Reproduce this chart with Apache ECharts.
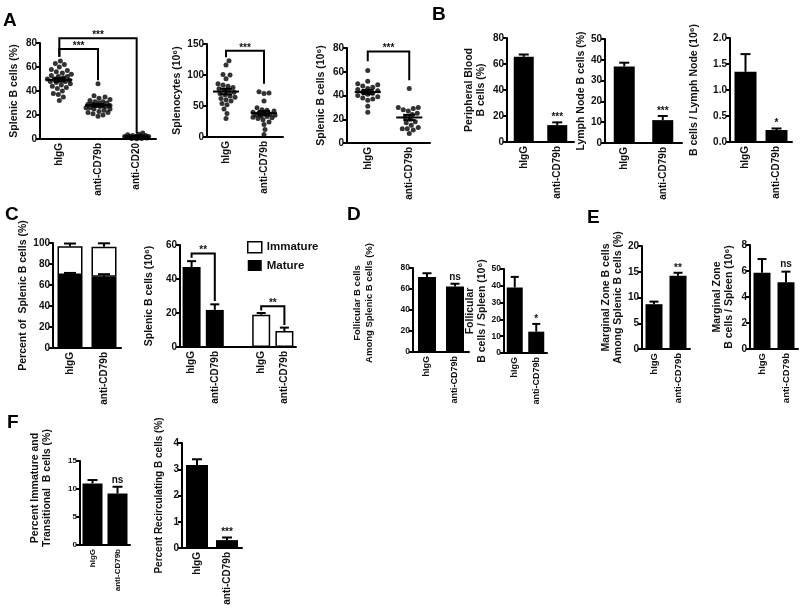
<!DOCTYPE html>
<html>
<head>
<meta charset="utf-8">
<script src="https://cdn.jsdelivr.net/npm/echarts@6/dist/echarts.min.js"></script>
<style>
  html, body { margin: 0; background: #fff; }
  #chart { width: 800px; height: 614px; }
</style>
</head>
<body>
<div id="chart"></div>
<script>
// group labels
const groups2 = ['hIgG', 'anti-CD79b'];
const groups3 = ['hIgG', 'anti-CD79b', 'anti-CD20'];
const groupsC2 = ['hIgG', 'anti-CD79b', '', 'hIgG', 'anti-CD79b'];

// A - one dot per mouse
const splenicPctIgG = [65, 63, 62, 60, 58, 57, 56, 55, 54, 53, 52, 52, 51, 50, 50, 49, 49, 48, 48, 47, 46, 45, 44, 43, 42, 40, 38, 37, 35, 32];
const splenicPctCD79b = [46, 36, 35, 34, 33, 32, 31, 31, 30, 30, 29, 29, 28, 28, 28, 27, 27, 26, 26, 25, 25, 24, 23, 22, 22, 21, 20, 19];
const splenicPctCD20 = [5, 4, 3.5, 3, 3, 2.5, 2.5, 2, 2, 2, 1.5, 1.5, 1, 1, 0.8, 0.5, 0.5, 0.3];
const splenocytesIgG = [123, 116, 101, 100, 94, 86, 84, 82, 80, 78, 76, 74, 72, 70, 68, 66, 64, 62, 60, 58, 54, 52, 45, 38, 30];
const splenocytesCD79b = [73, 71, 70, 58, 47, 44, 43, 42, 40, 39, 38, 37, 36, 35, 34, 33, 32, 31, 30, 28, 24, 20, 12, 4];
const splenicNumIgG = [61, 52, 50, 49, 48, 47, 46, 45, 44, 43, 42, 41, 40, 39, 38, 37, 36, 31, 26];
const splenicNumCD79b = [46, 30, 30, 29, 28, 27, 25, 24, 22, 20, 18, 17, 15, 13, 12, 12, 11, 8];

// B - mean and SEM
const bloodMean = [65.5, 13];
const bloodSem = [1.8, 2.1];
const lnPctMean = [36.8, 11];
const lnPctSem = [1.8, 2.0];
const lnNumMean = [1.35, 0.23];
const lnNumSem = [0.34, 0.03];

// C
const pctMature = [69.5, 67.8];
const pctMatureSem = [2, 2.5];
const pctImmature = [27.5, 28.7];
const pctTotalSem = [2.5, 3.2];
const numMature = [47, 21.8];
const numMatureSem = [3.5, 3.3];
const numImmature = [19, 9.4];
const numImmatureSem = [1, 2];

// D
const follPctMean = [71.5, 62.5];
const follPctSem = [3.5, 2.5];
const follNumMean = [39, 12.7];
const follNumSem = [6.3, 4.6];

// E
const mzPctMean = [8.7, 14.2];
const mzPctSem = [0.5, 0.6];
const mzNumMean = [5.87, 5.13];
const mzNumSem = [1.05, 0.82];

// F
const immTransMean = [11.0, 9.2];
const immTransSem = [0.6, 1.2];
const recircMean = [3.16, 0.3];
const recircSem = [0.22, 0.1];

// significance marks
const sigB1 = ['', '***'];
const sigB2 = ['', '***'];
const sigB3 = ['', '*'];
const sigD1 = ['', 'ns'];
const sigD2 = ['', '*'];
const sigE1 = ['', '**'];
const sigE2 = ['', 'ns'];
const sigF1 = ['', 'ns'];
const sigF2 = ['', '***'];

const FONT = '"Liberation Sans", Arial, Helvetica, sans-serif';
const INK = '#111';

// plot boxes [left, right, top, bottom] in px
const boxes = {
  a1: [40, 156, 43, 139],
  a2: [207, 283, 44, 137],
  a3: [347, 430, 48, 143],
  b1: [507, 574, 38, 142],
  b2: [605, 682, 39, 143],
  b3: [730, 792, 38, 142],
  c1: [53, 121, 243, 348],
  c2: [180, 296, 245, 347],
  d1: [413, 469, 268, 352],
  d2: [504, 547, 269, 353],
  e1: [642, 690, 246, 349],
  e2: [750, 798, 245, 349],
  f1: [80, 130, 461, 545],
  f2: [182, 242, 443, 548]
};

const grids = [], xAxes = [], yAxes = [], series = [];

function addPanel(box, cats, y, xFont) {
  const i = grids.length;
  grids.push({ left: box[0], top: box[2], width: box[1] - box[0], height: box[3] - box[2] });
  xAxes.push({
    gridIndex: i, type: 'category', data: cats,
    axisLine: { lineStyle: { color: '#000', width: 2 } },
    axisTick: { alignWithLabel: true, length: 4, lineStyle: { width: 2 },
      interval: (idx, val) => val !== '' },
    axisLabel: { rotate: 90, margin: 4, interval: 0, color: INK, fontSize: xFont || 10,
      fontWeight: 'bold', fontFamily: FONT }
  });
  yAxes.push({
    gridIndex: i, type: 'value', min: 0, max: y.max, interval: y.step,
    name: y.name, nameLocation: 'middle', nameGap: y.gap,
    nameTextStyle: { color: INK, fontSize: y.nameSize || 10.5, fontWeight: 'bold',
      fontFamily: FONT, lineHeight: 12, padding: y.pad || 0 },
    axisLine: { show: true, lineStyle: { color: '#000', width: 2 } },
    axisTick: { show: true, length: 4, lineStyle: { width: 2 } },
    axisLabel: { margin: 3, color: INK, fontSize: y.size || 10, fontWeight: 'bold',
      fontFamily: FONT, formatter: y.fmt },
    splitLine: { show: false }
  });
  return i;
}

function seg(x1, y1, x2, y2) {
  return { type: 'line', shape: { x1, y1, x2, y2 }, style: { stroke: '#000', lineWidth: 2 } };
}

function sigText(t, x, y, size) {
  const star = t.charAt(0) === '*';
  return {
    type: 'text', x, y: star ? y - 10 : y - 2,
    style: { text: t, textAlign: 'center', textVerticalAlign: star ? 'top' : 'bottom',
      font: 'bold ' + (size || 10) + 'px ' + FONT, fill: INK }
  };
}

function bars(i, name, vals, width, style, stack) {
  return { type: 'bar', name, xAxisIndex: i, yAxisIndex: i, data: vals, barWidth: width,
    barGap: '-100%', stack, silent: true, itemStyle: style || { color: '#000' } };
}

function errBars(i, pts, cap, labels, size) {
  return {
    type: 'custom', xAxisIndex: i, yAxisIndex: i, data: pts, silent: true, z: 5,
    renderItem(params, api) {
      const x = api.value(0), m = api.value(1), e = api.value(2);
      const a = api.coord([x, m]), b = api.coord([x, m + e]);
      const kids = [seg(a[0], a[1], b[0], b[1]), seg(b[0] - cap / 2, b[1], b[0] + cap / 2, b[1])];
      const t = labels && labels[params.dataIndex];
      if (t) kids.push(sigText(t, b[0], b[1], size));
      return { type: 'group', children: kids };
    }
  };
}

function meanSem(i, pts) {
  return {
    type: 'custom', xAxisIndex: i, yAxisIndex: i, data: pts, silent: true, z: 5,
    renderItem(params, api) {
      const x = api.value(0), m = api.value(1), s = api.value(2);
      const c = api.coord([x, m]), hi = api.coord([x, m + s]), lo = api.coord([x, m - s]);
      return { type: 'group', children: [
        seg(c[0] - 13, c[1], c[0] + 13, c[1]),
        seg(hi[0], hi[1], lo[0], lo[1]),
        seg(hi[0] - 6, hi[1], hi[0] + 6, hi[1]),
        seg(lo[0] - 6, lo[1], lo[0] + 6, lo[1])
      ] };
    }
  };
}

// [cat1, top, cat2, bottom1, bottom2]
function brackets(i, items, labels) {
  return {
    type: 'custom', xAxisIndex: i, yAxisIndex: i, data: items, silent: true, z: 6,
    renderItem(params, api) {
      const c1 = api.value(0), top = api.value(1), c2 = api.value(2);
      const p1 = api.coord([c1, top]), p2 = api.coord([c2, top]);
      const b1 = api.coord([c1, api.value(3)]), b2 = api.coord([c2, api.value(4)]);
      return { type: 'group', children: [
        { type: 'polyline', shape: { points: [b1, p1, p2, b2] },
          style: { stroke: '#000', lineWidth: 2, fill: null } },
        sigText(labels[params.dataIndex], (p1[0] + p2[0]) / 2, p1[1] + 2)
      ] };
    }
  };
}

// bounded beeswarm: horizontal pixel offsets within +-w, spreading dots as far as room allows
function swarm(vals, ppu, d, w) {
  const placed = [];
  const offs = new Array(vals.length);
  const order = vals.map((v, k) => k).sort((a, b) => vals[a] - vals[b]);
  order.forEach(k => {
    const y = vals[k] * ppu;
    let best = 0, bestGap = -1;
    for (let n = 0; n <= 2 * w; n++) {
      const dx = (n % 2 ? 1 : -1) * Math.ceil(n / 2);
      let gap = Infinity;
      placed.forEach(q => { gap = Math.min(gap, Math.hypot(q.x - dx, q.y - y)); });
      if (gap >= d) { best = dx; bestGap = gap; break; }
      if (gap > bestGap + 0.01) { best = dx; bestGap = gap; }
    }
    placed.push({ x: best, y });
    offs[k] = best;
  });
  return offs;
}

function dots(i, cat, vals, box, max, w) {
  const offs = swarm(vals, (box[3] - box[2]) / max, 5, w || 12);
  return {
    type: 'scatter', xAxisIndex: i, yAxisIndex: i, symbolSize: 5, silent: true,
    itemStyle: { color: '#000' },
    data: vals.map((v, k) => ({ value: [cat, v], symbolOffset: [offs[k], 0] }))
  };
}

function mean(a) { return a.reduce((s, v) => s + v, 0) / a.length; }
function sem(a) {
  const m = mean(a);
  const sd = Math.sqrt(a.reduce((s, v) => s + (v - m) ** 2, 0) / (a.length - 1));
  return sd / Math.sqrt(a.length);
}
function summary(lists) { return lists.map((a, k) => [k, mean(a), sem(a)]); }
function errPts(m, s, start) { return m.map((v, k) => [k + (start || 0), v, s[k]]); }

// ---- A ----
let p = addPanel(boxes.a1, groups3, { max: 80, step: 20, name: 'Splenic B cells (%)', gap: 20 });
[splenicPctIgG, splenicPctCD79b, splenicPctCD20].forEach((v, k) => series.push(dots(p, k, v, boxes.a1, 80, 12)));
series.push(meanSem(p, summary([splenicPctIgG, splenicPctCD79b, splenicPctCD20])));
series.push(brackets(p, [[0, 75, 1, 68.6, 49], [0, 84, 2, 68.6, 5]], ['***', '***']));

p = addPanel(boxes.a2, groups2, { max: 150, step: 50, name: 'Splenocytes (10\u2076)', gap: 24 });
[splenocytesIgG, splenocytesCD79b].forEach((v, k) => series.push(dots(p, k, v, boxes.a2, 150, 11)));
series.push(meanSem(p, summary([splenocytesIgG, splenocytesCD79b])));
series.push(brackets(p, [[0, 139, 1, 128.7, 86]], ['***']));

p = addPanel(boxes.a3, groups2, { max: 80, step: 20, name: 'Splenic B cells (10\u2076)', gap: 20 });
[splenicNumIgG, splenicNumCD79b].forEach((v, k) => series.push(dots(p, k, v, boxes.a3, 80, 12)));
series.push(meanSem(p, summary([splenicNumIgG, splenicNumCD79b])));
series.push(brackets(p, [[0, 77, 1, 68.8, 52.8]], ['***']));

// ---- B ----
p = addPanel(boxes.b1, groups2, { max: 80, step: 20, name: 'Peripheral Blood\nB cells (%)', gap: 20 });
series.push(bars(p, 'blood', bloodMean, 20));
series.push(errBars(p, errPts(bloodMean, bloodSem), 10, sigB1));

p = addPanel(boxes.b2, groups2, { max: 50, step: 10, name: 'Lymph Node B cells (%)', gap: 11 });
series.push(bars(p, 'ln', lnPctMean, 21));
series.push(errBars(p, errPts(lnPctMean, lnPctSem), 10, sigB2));

p = addPanel(boxes.b3, groups2, { max: 2, step: 0.5, name: 'B cells / Lymph Node (10\u2076)', gap: 30,
  fmt: v => v.toFixed(1) });
series.push(bars(p, 'lnNum', lnNumMean, 22));
series.push(errBars(p, errPts(lnNumMean, lnNumSem), 10, sigB3));

// ---- C ----
p = addPanel(boxes.c1, groups2, { max: 100, step: 20, name: 'Percent of  Splenic B cells (%)', gap: 24 });
series.push(bars(p, 'Mature', pctMature, 25, { color: '#000' }, 'pct'));
series.push(bars(p, 'Immature', pctImmature, 25,
  { color: '#fff', borderColor: '#000', borderWidth: 1.5 }, 'pct'));
series.push(errBars(p, errPts(pctMature, pctMatureSem), 12));
series.push(errBars(p, errPts(pctMature.map((v, k) => v + pctImmature[k]), pctTotalSem), 12));

p = addPanel(boxes.c2, groupsC2, { max: 60, step: 20, name: 'Splenic B cells (10\u2076)', gap: 25 });
series.push(bars(p, 'Mature', numMature.concat(['-', '-', '-']), 18, { color: '#000' }));
series.push(bars(p, 'Immature', ['-', '-', '-'].concat(numImmature), 18,
  { color: '#fff', borderColor: '#000', borderWidth: 1.5 }));
series.push(errBars(p, errPts(numMature, numMatureSem).concat(errPts(numImmature, numImmatureSem, 3)), 9));
series.push(brackets(p, [[0, 55, 1, 52.5, 27], [3, 24, 4, 21.5, 13]], ['**', '**']));

// ---- D ----
p = addPanel(boxes.d1, groups2, { max: 80, step: 20, size: 8.5, nameSize: 9.5,
  name: 'Follicular B cells\nAmong Splenic B cells (%)', gap: 38, pad: [0, 0, 0, 14] }, 9);
series.push(bars(p, 'foll', follPctMean, 18));
series.push(errBars(p, errPts(follPctMean, follPctSem), 9, sigD1));

p = addPanel(boxes.d2, groups2, { max: 50, step: 10, size: 8.5, nameSize: 10.5,
  name: 'Follicular\nB cells / Spleen (10\u2076)', gap: 13 }, 9);
series.push(bars(p, 'follNum', follNumMean, 16));
series.push(errBars(p, errPts(follNumMean, follNumSem), 8, sigD2));

// ---- E ----
p = addPanel(boxes.e1, groups2, { max: 20, step: 5,
  name: 'Marginal Zone B cells\nAmong Splenic B cells (%)', gap: 15 }, 9.5);
series.push(bars(p, 'mz', mzPctMean, 17));
series.push(errBars(p, errPts(mzPctMean, mzPctSem), 9, sigE1));

p = addPanel(boxes.e2, groups2, { max: 8, step: 2,
  name: 'Marginal Zone\nB cells / Spleen (10\u2076)', gap: 15 }, 9.5);
series.push(bars(p, 'mzNum', mzNumMean, 17));
series.push(errBars(p, errPts(mzNumMean, mzNumSem), 9, sigE2));

// ---- F ----
p = addPanel(boxes.f1, groups2, { max: 15, step: 5, size: 8, nameSize: 10.5,
  name: 'Percent Immature and\nTransitional  B cells (%)', gap: 27, pad: [0, 0, 0, 30] }, 8);
series.push(bars(p, 'immTrans', immTransMean, 20));
series.push(errBars(p, errPts(immTransMean, immTransSem), 10, sigF1));

p = addPanel(boxes.f2, groups2, { max: 4, step: 1, nameSize: 10,
  name: 'Percent Recirculating B cells (%)', gap: 17 }, 10);
series.push(bars(p, 'recirc', recircMean, 22));
series.push(errBars(p, errPts(recircMean, recircSem), 10, sigF2));

const letters = [['A', 3, 11], ['B', 432, 5], ['C', 5, 205], ['D', 347, 205], ['E', 587, 208], ['F', 7, 413]];

const chart = echarts.init(document.getElementById('chart'));
chart.setOption({
  animation: false,
  backgroundColor: '#fff',
  grid: grids,
  xAxis: xAxes,
  yAxis: yAxes,
  series: series,
  legend: {
    left: 242, top: 236, orient: 'vertical', itemGap: 6, itemWidth: 14, itemHeight: 11,
    icon: 'rect', selectedMode: false,
    textStyle: { color: INK, fontSize: 11.5, fontWeight: 'bold', fontFamily: FONT },
    data: [
      { name: 'Immature', itemStyle: { color: '#fff', borderColor: '#000', borderWidth: 1.5 } },
      { name: 'Mature', itemStyle: { color: '#000' } }
    ]
  },
  graphic: letters.map(l => ({
    type: 'text', left: l[1], top: l[2],
    style: { text: l[0], font: 'bold 19px ' + FONT, fill: '#000' }
  }))
});
</script>
</body>
</html>
